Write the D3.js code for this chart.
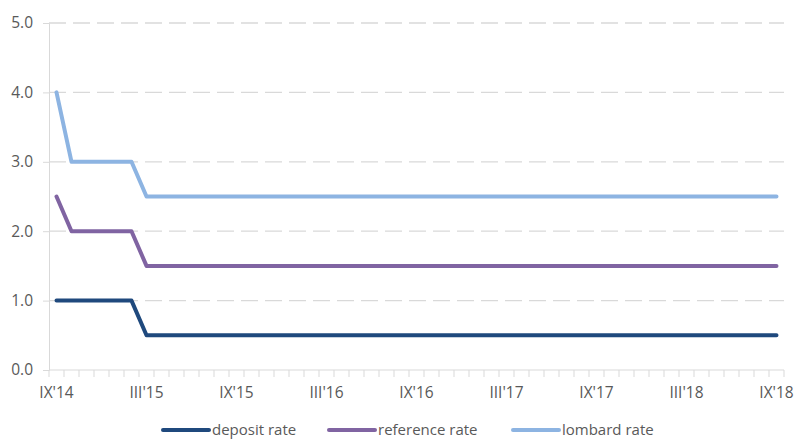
<!DOCTYPE html>
<html>
<head>
<meta charset="utf-8">
<script src="https://cdn.jsdelivr.net/npm/d3@7"></script>
<style>
  body { margin: 0; background: #fff; }
  svg { display: block; font-family: "Open Sans", "Liberation Sans", Arial, sans-serif; }
</style>
</head>
<body>
<svg id="chart" width="798" height="439"></svg>
<script>
// Monthly observations, September 2014 to September 2018
const months = [
  "IX'14","X'14","XI'14","XII'14","I'15","II'15","III'15","IV'15","V'15","VI'15","VII'15","VIII'15",
  "IX'15","X'15","XI'15","XII'15","I'16","II'16","III'16","IV'16","V'16","VI'16","VII'16","VIII'16",
  "IX'16","X'16","XI'16","XII'16","I'17","II'17","III'17","IV'17","V'17","VI'17","VII'17","VIII'17",
  "IX'17","X'17","XI'17","XII'17","I'18","II'18","III'18","IV'18","V'18","VI'18","VII'18","VIII'18",
  "IX'18"
];
const depositRate   = [1.0,1.0,1.0,1.0,1.0,1.0].concat(Array(43).fill(0.5));
const referenceRate = [2.5,2.0,2.0,2.0,2.0,2.0].concat(Array(43).fill(1.5));
const lombardRate   = [4.0,3.0,3.0,3.0,3.0,3.0].concat(Array(43).fill(2.5));
const tickLabels = ["IX'14","III'15","IX'15","III'16","IX'16","III'17","IX'17","III'18","IX'18"];
const yTicks = [0, 1, 2, 3, 4, 5];

const series = [
  { name: "deposit rate",   values: depositRate,   color: "#1f497d" },
  { name: "reference rate", values: referenceRate, color: "#8064a2" },
  { name: "lombard rate",   values: lombardRate,   color: "#8db4e2" }
];

const svg = d3.select("#chart");
const plotLeft = 49, plotRight = 784, plotTop = 23, plotBottom = 370;
const textColor = "#595959", fontSize = "15.5px";

const x = d3.scaleBand().domain(months).range([plotLeft, plotRight]).padding(0);
const y = d3.scaleLinear().domain([0, 5]).range([plotBottom, plotTop]);
const cx = m => x(m) + x.bandwidth() / 2;

// Dashed horizontal gridlines
svg.append("g").selectAll("line")
  .data(yTicks.filter(d => d > 0))
  .join("line")
  .attr("x1", plotLeft).attr("x2", plotRight)
  .attr("y1", d => y(d)).attr("y2", d => y(d))
  .attr("stroke", "#d9d9d9").attr("stroke-width", 1.3)
  .attr("stroke-dasharray", "17,7");

// Y axis
const yAxis = svg.append("g")
  .attr("transform", `translate(${plotLeft},0)`)
  .call(d3.axisLeft(y).tickValues(yTicks).tickFormat(d3.format(".1f")).tickSize(6).tickPadding(10));
yAxis.select(".domain").attr("stroke", "#d9d9d9");
yAxis.selectAll(".tick line").attr("stroke", "#d9d9d9");
yAxis.selectAll("text").attr("fill", textColor).style("font-size", fontSize)
  .style("font-family", "Open Sans, sans-serif");

// X axis: tick marks at month boundaries, labels every six months
const xg = svg.append("g").attr("transform", `translate(0,${plotBottom})`);
xg.append("line").attr("x1", plotLeft).attr("x2", plotRight).attr("y1", 0).attr("y2", 0)
  .attr("stroke", "#d9d9d9");
xg.selectAll("line.tk")
  .data(months.concat(["end"]))
  .join("line").attr("class", "tk")
  .attr("x1", (d, i) => plotLeft + i * x.bandwidth())
  .attr("x2", (d, i) => plotLeft + i * x.bandwidth())
  .attr("y1", 0).attr("y2", 7)
  .attr("stroke", "#d9d9d9");
xg.selectAll("text")
  .data(tickLabels)
  .join("text")
  .attr("x", d => cx(d))
  .attr("y", 28)
  .attr("text-anchor", "middle")
  .attr("fill", textColor)
  .style("font-size", fontSize)
  .text(d => d);

// Rate lines
const line = d3.line()
  .x((v, i) => cx(months[i]))
  .y(v => y(v));
svg.append("g").selectAll("path")
  .data(series)
  .join("path")
  .attr("d", s => line(s.values))
  .attr("fill", "none")
  .attr("stroke", s => s.color)
  .attr("stroke-width", 4)
  .attr("stroke-linejoin", "round")
  .attr("stroke-linecap", "round");

// Legend
const legendX = [163, 329, 513];
const lg = svg.append("g").selectAll("g")
  .data(series)
  .join("g")
  .attr("transform", (s, i) => `translate(${legendX[i]},430)`);
lg.append("line")
  .attr("x1", 0).attr("x2", 46).attr("y1", 0).attr("y2", 0)
  .attr("stroke", s => s.color).attr("stroke-width", 4)
  .attr("stroke-linecap", "round");
lg.append("text")
  .attr("x", 49).attr("y", 5)
  .attr("fill", textColor)
  .style("font-size", "15px")
  .text(s => s.name);
</script>
</body>
</html>
